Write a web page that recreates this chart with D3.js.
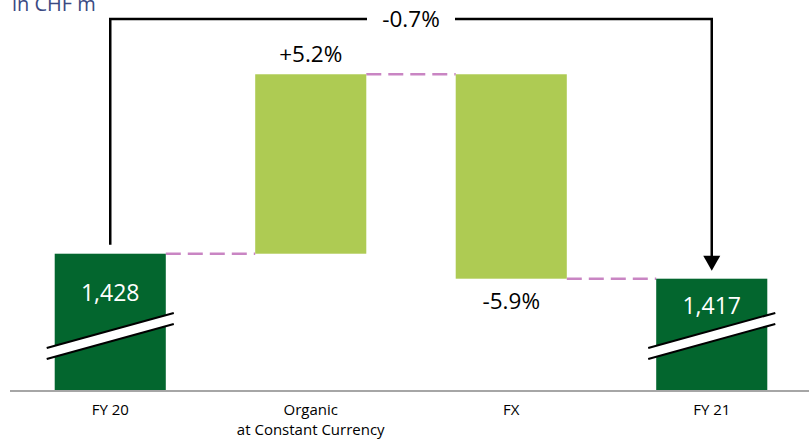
<!DOCTYPE html>
<html>
<head>
<meta charset="utf-8">
<script src="https://cdn.jsdelivr.net/npm/d3@7"></script>
<style>
  body { margin: 0; background: #fff; }
  svg { display: block; font-family: "Open Sans", "Noto Sans", sans-serif; }
</style>
</head>
<body>
<div id="chart"></div>
<script>
// categories and values (CHF m)
const categories = ["FY 20", "Organic\nat Constant Currency", "FX", "FY 21"];
const kinds = ["total", "delta", "delta", "total"];
const values = [1428, 79, -90, 1417];
const pctLabels = ["", "+5.2%", "-5.9%", ""];
const totalChange = "-0.7%";
const breakAt = 1392; // axis break drawn on the total bars

const width = 809, height = 440;

const svg = d3.select("#chart").append("svg")
    .attr("width", width)
    .attr("height", height);

const x = d3.scaleBand()
    .domain(categories)
    .range([10, 812])
    .paddingInner(0.446)
    .paddingOuter(0.223);

const y = d3.scaleLinear()
    .domain([1368, 1508])
    .range([390, 72]);

// build waterfall steps
let running = 0;
const steps = categories.map((c, i) => {
    let start, end;
    if (kinds[i] === "total") {
        start = y.domain()[0];
        end = values[i];
        running = values[i];
    } else {
        start = running;
        end = running + values[i];
        running = end;
    }
    return { cat: c, kind: kinds[i], value: values[i], start, end, pct: pctLabels[i] };
});

// connectors
const conn = svg.append("g");
steps.slice(0, -1).forEach((s, i) => {
    const nxt = steps[i + 1];
    conn.append("line")
        .attr("x1", x(s.cat) + x.bandwidth())
        .attr("x2", x(nxt.cat))
        .attr("y1", y(s.end))
        .attr("y2", y(s.end))
        .attr("stroke", "#c985c3")
        .attr("stroke-width", 2.5)
        .attr("stroke-dasharray", "15,7");
});

// bars
svg.append("g").selectAll("rect")
    .data(steps)
    .join("rect")
    .attr("x", d => x(d.cat))
    .attr("width", x.bandwidth())
    .attr("y", d => y(Math.max(d.start, d.end)))
    .attr("height", d => Math.abs(y(d.start) - y(d.end)))
    .attr("fill", d => d.kind === "total" ? "#03662e" : "#aecb53");

// axis baseline
svg.append("line")
    .attr("x1", 10).attr("x2", width)
    .attr("y1", 391).attr("y2", 391)
    .attr("stroke", "#a6a6a6")
    .attr("stroke-width", 2);

// axis break marks on total bars
const totals = steps.filter(d => d.kind === "total");
const slope = -35 / 127;
totals.forEach(d => {
    const cx = x(d.cat) + x.bandwidth() / 2;
    const x1 = x(d.cat) - 8, x2 = x(d.cat) + x.bandwidth() + 8;
    const yc = y(breakAt);
    const yAt = (xx, off) => yc + off + (xx - cx) * slope;
    const g = svg.append("g");
    g.append("path")
        .attr("d", `M${x1},${yAt(x1, -5)}L${x2},${yAt(x2, -5)}L${x2},${yAt(x2, 6)}L${x1},${yAt(x1, 6)}Z`)
        .attr("fill", "#fff");
    [-5, 6].forEach(off => {
        g.append("line")
            .attr("x1", x1).attr("y1", yAt(x1, off))
            .attr("x2", x2).attr("y2", yAt(x2, off))
            .attr("stroke", "#000")
            .attr("stroke-width", 2);
    });
});

// value labels inside total bars
totals.forEach(d => {
    const top = y(d.end);
    const brk = y(breakAt) - 5;
    svg.append("text")
        .attr("x", x(d.cat) + x.bandwidth() / 2)
        .attr("y", (top + brk) / 2 + 1)
        .attr("dy", "0.35em")
        .attr("text-anchor", "middle")
        .attr("fill", "#fff")
        .attr("font-size", 23)
        .text(d3.format(",")(d.value));
});

// percentage labels for deltas
steps.filter(d => d.kind === "delta").forEach(d => {
    const up = d.value >= 0;
    svg.append("text")
        .attr("x", x(d.cat) + x.bandwidth() / 2)
        .attr("y", up ? y(d.end) - 20 : y(d.end) + 22)
        .attr("dy", "0.35em")
        .attr("text-anchor", "middle")
        .attr("fill", "#000")
        .attr("font-size", 22.5)
        .text(d.pct);
});

// bracket arrow showing total change
const first = steps[0], last = steps[steps.length - 1];
const bx1 = x(first.cat) + x.bandwidth() / 2;
const bx2 = x(last.cat) + x.bandwidth() / 2;
const by = 19;
const mid = (bx1 + bx2) / 2;
const gap = 44;
const br = svg.append("g")
    .attr("fill", "none")
    .attr("stroke", "#000")
    .attr("stroke-width", 2.5);
br.append("path")
    .attr("d", `M${bx1},${y(first.end) - 9}V${by}H${mid - gap}`);
br.append("path")
    .attr("d", `M${mid + gap},${by}H${bx2}V${y(last.end) - 22}`);
svg.append("path")
    .attr("d", `M${bx2 - 8.5},${y(last.end) - 23}L${bx2 + 8.5},${y(last.end) - 23}L${bx2},${y(last.end) - 8}Z`)
    .attr("fill", "#000");
svg.append("text")
    .attr("x", mid)
    .attr("y", by)
    .attr("dy", "0.35em")
    .attr("text-anchor", "middle")
    .attr("font-size", 22.5)
    .text(totalChange);

// category labels
svg.append("g").selectAll("text")
    .data(steps)
    .join("text")
    .attr("x", d => x(d.cat) + x.bandwidth() / 2)
    .attr("y", 415)
    .attr("text-anchor", "middle")
    .attr("font-size", 15)
    .attr("fill", "#000")
    .each(function(d) {
        const lines = d.cat.split("\n");
        d3.select(this).selectAll("tspan")
            .data(lines)
            .join("tspan")
            .attr("x", x(d.cat) + x.bandwidth() / 2)
            .attr("dy", (l, i) => i === 0 ? 0 : 20)
            .text(l => l);
    });

// unit title
svg.append("text")
    .attr("x", 12)
    .attr("y", 11)
    .attr("font-size", 20)
    .attr("fill", "#3b4a83")
    .text("in CHF m");
</script>
</body>
</html>
